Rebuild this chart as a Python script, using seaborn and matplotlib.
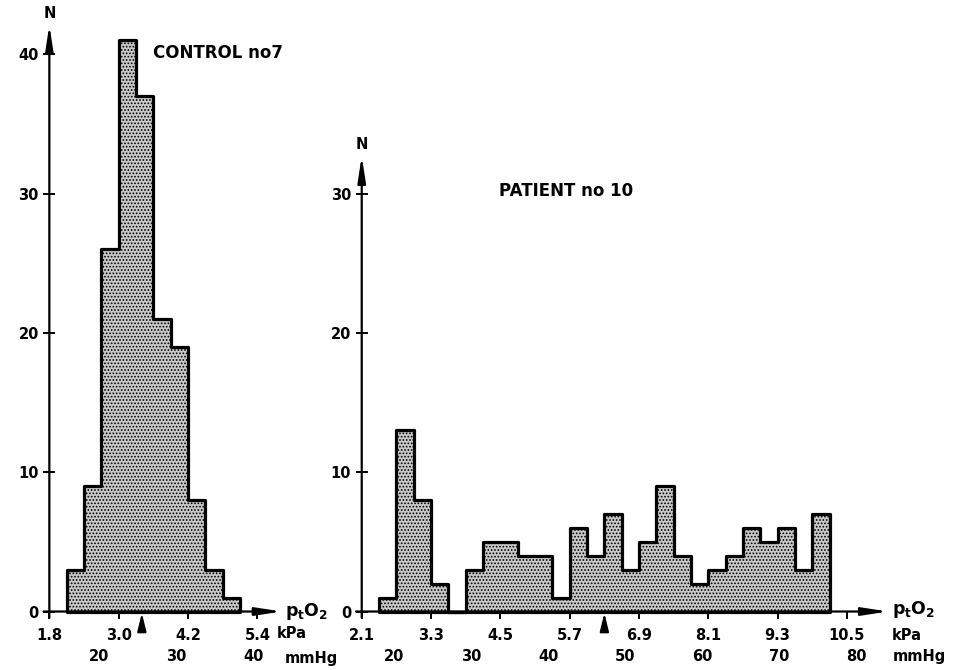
import numpy as np
import pandas as pd
import matplotlib
matplotlib.use("Agg")
import matplotlib.pyplot as plt
import seaborn as sns

# ---------------- data ----------------
control_edges_kpa = [2.1, 2.4, 2.7, 3.0, 3.3, 3.6, 3.9, 4.2, 4.5, 4.8, 5.1]
control_counts = [3, 9, 26, 41, 37, 21, 19, 8, 3, 1]
control_mean_kpa = 3.4

patient_edges_kpa = [2.4, 2.7, 3.0, 3.3, 3.6, 3.9, 4.2, 4.5, 4.8, 5.1, 5.4,
                     5.7, 6.0, 6.3, 6.6, 6.9, 7.2, 7.5, 7.8, 8.1, 8.4, 8.7,
                     9.0, 9.3, 9.6, 9.9, 10.2]
patient_counts = [1, 13, 8, 2, 0, 3, 5, 5, 4, 4, 1, 6, 4, 7, 3, 5, 9, 4, 2,
                  3, 4, 6, 5, 6, 3, 7]
patient_mean_kpa = 6.3

control_kpa_ticks = [1.8, 3.0, 4.2, 5.4]
control_mmhg_ticks = [20, 30, 40]
control_n_ticks = [0, 10, 20, 30, 40]

patient_kpa_ticks = [2.1, 3.3, 4.5, 5.7, 6.9, 8.1, 9.3, 10.5]
patient_mmhg_ticks = [20, 30, 40, 50, 60, 70, 80]
patient_n_ticks = [0, 10, 20, 30]

control_title = "CONTROL no7"
patient_title = "PATIENT no 10"

KPA_PER_MMHG = 0.133322

# ---------------- style ----------------
sns.set_theme(style="white")
plt.rcParams["font.family"] = ["DejaVu Sans"]
plt.rcParams["font.weight"] = "bold"
plt.rcParams["text.color"] = "black"
plt.rcParams["hatch.color"] = "#303030"
plt.rcParams["hatch.linewidth"] = 0.8

W, H = 960, 670
fig = plt.figure(figsize=(W / 100, H / 100), dpi=100)
fig.patch.set_facecolor("white")


def frac(x, y):
    return x / W, 1 - y / H


ax1 = fig.add_axes([0.0514, 0.0873, 0.2421, 0.8754])
ax2 = fig.add_axes([0.3768, 0.0873, 0.5482, 0.6799])


def draw_panel(ax, edges, counts, xlim, ylim, kpa_ticks, n_ticks, mmhg_ticks, mean):
    centers = [(a + b) / 2 for a, b in zip(edges[:-1], edges[1:])]
    df = pd.DataFrame({"kpa": centers, "n": counts})
    sns.histplot(data=df, x="kpa", weights="n", bins=edges, element="step",
                 fill=True, facecolor="#c9c9c9", edgecolor="black",
                 linewidth=2.3, hatch=".....", alpha=1, ax=ax, clip_on=False)
    ax.set_xlim(*xlim)
    ax.set_ylim(*ylim)
    ax.set_xlabel("")
    ax.set_ylabel("")
    ax.grid(False)
    ax.set_facecolor("none")
    for s in ax.spines.values():
        s.set_visible(False)
    ax.set_xticks(kpa_ticks, labels=[f"{t:.1f}" for t in kpa_ticks])
    ax.set_yticks(n_ticks)
    ax.tick_params(axis="x", bottom=True, direction="out", length=5, width=1.4,
                   pad=7, labelsize=10.5, color="black", labelcolor="black")
    ax.tick_params(axis="y", left=True, direction="inout", length=9, width=1.4,
                   pad=3, labelsize=10.5, color="black", labelcolor="black")
    # axis lines with arrow heads
    arrow = dict(arrowstyle="-|>,head_length=1.3,head_width=0.2", lw=1.6,
                 color="black", shrinkA=0, shrinkB=0)
    ax.annotate("", xy=(xlim[1], 0), xytext=(xlim[0] - 0.1, 0),
                arrowprops=arrow, annotation_clip=False)
    ax.annotate("", xy=(xlim[0], ylim[1]), xytext=(xlim[0], -0.45),
                arrowprops=arrow, annotation_clip=False)
    ax.annotate("N", xy=(xlim[0], ylim[1]), xytext=(0, 3),
                textcoords="offset points", ha="center", va="bottom",
                fontsize=10.5, fontweight="bold", color="black",
                annotation_clip=False)
    # mean marker
    ax.annotate("", xy=(mean, 0), xytext=(0, -13), textcoords="offset points",
                arrowprops=dict(arrowstyle="-|>,head_length=0.9,head_width=0.22",
                                lw=1.5, color="black", shrinkA=0, shrinkB=1),
                annotation_clip=False)
    # mmHg scale
    sec = ax.secondary_xaxis("bottom", functions=(lambda k: k / KPA_PER_MMHG,
                                                  lambda m: m * KPA_PER_MMHG))
    sec.set_xticks(mmhg_ticks)
    sec.tick_params(length=0, pad=27, labelsize=10.5, labelcolor="black")
    for s in sec.spines.values():
        s.set_visible(False)


draw_panel(ax1, control_edges_kpa, control_counts, (1.8, 5.82), (0, 42.1),
           control_kpa_ticks, control_n_ticks, control_mmhg_ticks, control_mean_kpa)
draw_panel(ax2, patient_edges_kpa, patient_counts, (2.1, 11.21), (0, 32.7),
           patient_kpa_ticks, patient_n_ticks, patient_mmhg_ticks, patient_mean_kpa)

txt = dict(fontsize=12, fontweight="bold", color="black")
fig.text(*frac(153, 53), control_title, ha="left", va="center", **txt)
fig.text(*frac(499, 191), patient_title, ha="left", va="center", **txt)

unit = dict(fontsize=10.5, fontweight="bold", color="black", ha="left", va="center")
ptO2 = r"$\mathbf{p_tO_2}$"
fig.text(*frac(285, 612), ptO2, fontsize=12.5, ha="left", va="center", color="black")
fig.text(*frac(277, 634), "kPa", **unit)
fig.text(*frac(285, 658), "mmHg", **unit)
fig.text(*frac(892, 610), ptO2, fontsize=12.5, ha="left", va="center", color="black")
fig.text(*frac(892, 635), "kPa", **unit)
fig.text(*frac(893, 657), "mmHg", **unit)

fig.savefig("out.png", dpi=100, facecolor="white")
